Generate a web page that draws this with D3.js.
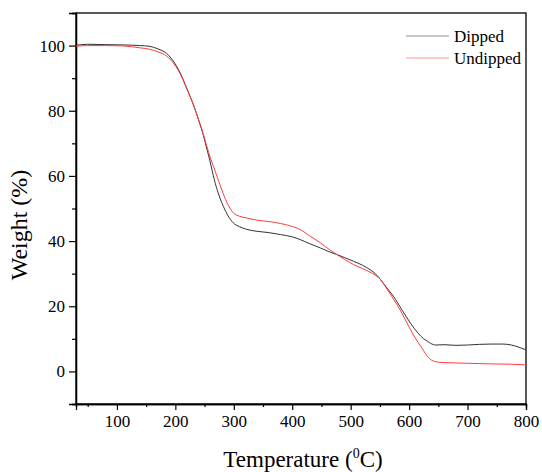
<!DOCTYPE html>
<html>
<head>
<meta charset="utf-8">
<script src="https://d3js.org/d3.v7.min.js"></script>
<style>
  body { margin: 0; background: #fff; }
  svg { display: block; }
  text { font-family: "Liberation Serif", "Times New Roman", serif; fill: #000; }
</style>
</head>
<body>
<svg id="tga" width="542" height="472"></svg>
<script>
// temperatures (deg C)
var temps = [30, 50, 80, 110, 140, 155, 170, 185, 200, 210, 217, 225, 231, 240, 248, 254, 260, 265, 272, 282, 290,
    299, 310, 322, 340, 360, 380, 400, 413, 430, 448, 465, 476, 490, 505, 520, 535, 545, 551, 562, 573,
    588, 602, 615, 625, 631, 638, 645, 660, 680, 700, 720, 740, 760, 775, 790, 800];

var dipped = [100.1, 100.4, 100.3, 100.2, 100.0, 99.8, 99.0, 97.6, 94.3, 91.0, 88.0, 84.5, 81.8, 77.0, 72.4, 68.2, 64.0, 60.0, 55.5, 50.7, 47.8,
    45.6, 44.4, 43.6, 43.0, 42.6, 42.0, 41.3, 40.5, 39.2, 37.9, 36.6, 35.9, 34.9, 33.8, 32.6, 31.0, 29.5, 28.2, 25.6, 23.1,
    18.8, 14.9, 11.8, 10.0, 9.3, 8.5, 8.1, 8.2, 8.0, 8.1, 8.3, 8.4, 8.4, 8.1, 7.3, 6.6];

var undipped = [99.8, 100.0, 100.0, 99.9, 99.3, 98.9, 98.1, 96.8, 93.8, 90.7, 87.8, 84.5, 81.8, 77.2, 72.8, 69.0, 65.5, 63.0, 59.5, 54.5, 51.2,
    48.7, 47.6, 47.1, 46.4, 46.0, 45.4, 44.5, 43.6, 41.6, 39.5, 37.2, 35.9, 34.3, 32.8, 31.6, 30.3, 29.2, 28.2, 25.3, 22.3,
    17.8, 12.9, 9.0, 6.3, 4.7, 3.5, 3.0, 2.7, 2.6, 2.5, 2.4, 2.3, 2.25, 2.2, 2.1, 2.0];

var xTicks = [100, 200, 300, 400, 500, 600, 700, 800];
var xMinor = [50, 150, 250, 350, 450, 550, 650, 750];
var yTicks = [0, 20, 40, 60, 80, 100];
var yMinor = [-10, 10, 30, 50, 70, 90, 110];

var series = [
    { name: 'Dipped', values: dipped, color: '#333' },
    { name: 'Undipped', values: undipped, color: '#ff3c3c' }
];

var margin = { top: 13, right: 16, bottom: 68, left: 76 };
var width = 542 - margin.left - margin.right,
    height = 472 - margin.top - margin.bottom;

var svg = d3.select('svg#tga');
var g = svg.append('g')
    .attr('transform', 'translate(' + margin.left + ',' + margin.top + ')');

var x = d3.scaleLinear().domain([30, 800]).range([0, width]);
var y = d3.scaleLinear().domain([-10, 110]).range([height, 0]);

// frame
g.append('rect')
    .attr('width', width)
    .attr('height', height)
    .attr('fill', 'none')
    .attr('stroke', '#000')
    .attr('stroke-width', 1.3);

// bottom axis
g.append('g')
    .attr('transform', 'translate(0,' + height + ')')
    .call(d3.axisBottom(x).tickValues(xTicks).tickSize(6).tickPadding(5).tickFormat(d3.format('d')));
g.append('g')
    .attr('transform', 'translate(0,' + height + ')')
    .call(d3.axisBottom(x).tickValues(xMinor).tickSize(3).tickFormat(''));

// left axis
g.append('g')
    .call(d3.axisLeft(y).tickValues(yTicks).tickSize(7).tickPadding(4).tickFormat(d3.format('d')));
g.append('g')
    .call(d3.axisLeft(y).tickValues(yMinor).tickSize(4).tickFormat(''));

g.selectAll('.domain').attr('stroke', '#000').attr('stroke-width', 1.3);
g.selectAll('.tick line').attr('stroke', '#000').attr('stroke-width', 1.2);
g.selectAll('.tick text')
    .style('font-family', '"Liberation Serif", "Times New Roman", serif')
    .style('font-size', '17px');

// curves
var line = d3.line()
    .x(function(d) { return x(d[0]); })
    .y(function(d) { return y(d[1]); })
    .curve(d3.curveMonotoneX);

series.forEach(function(s) {
    var pts = temps.map(function(t, i) { return [t, s.values[i]]; });
    g.append('path')
        .datum(pts)
        .attr('d', line)
        .attr('fill', 'none')
        .attr('stroke', s.color)
        .attr('stroke-width', 1);
});

// legend
var legend = g.append('g')
    .attr('transform', 'translate(' + (406 - margin.left) + ',' + (36 - margin.top) + ')');
series.forEach(function(s, i) {
    var row = legend.append('g').attr('transform', 'translate(0,' + i * 22 + ')');
    row.append('line')
        .attr('x1', 0).attr('x2', 43)
        .attr('stroke', s.color)
        .attr('stroke-opacity', 0.55)
        .attr('stroke-width', 1);
    row.append('text')
        .attr('x', 48)
        .attr('dy', '0.35em')
        .style('font-size', '17px')
        .text(s.name);
});

// axis titles
svg.append('text')
    .attr('transform', 'translate(27,225) rotate(-90)')
    .attr('text-anchor', 'middle')
    .style('font-size', '24px')
    .text('Weight (%)');

var xt = svg.append('text')
    .attr('x', 303)
    .attr('y', 467)
    .attr('text-anchor', 'middle')
    .style('font-size', '23px');
xt.append('tspan').text('Temperature (');
xt.append('tspan').attr('dy', -9).style('font-size', '14px').text('0');
xt.append('tspan').attr('dy', 9).text('C)');
</script>
</body>
</html>
